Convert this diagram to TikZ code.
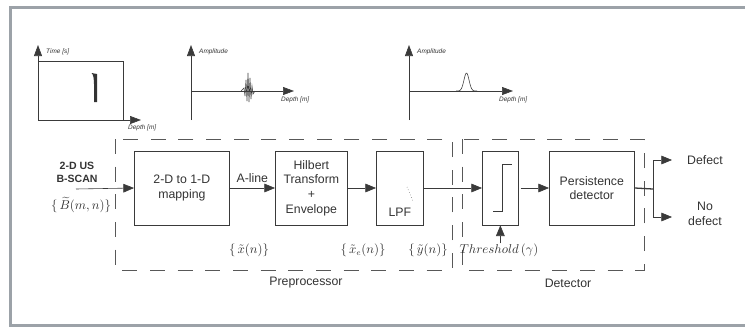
\documentclass[tikz,border=0pt]{standalone}
\usepackage{fontspec}
\setmainfont{Liberation Sans}
\usepackage{amsmath}
\usepackage{tikz}
\usetikzlibrary{positioning, arrows.meta, calc}
\definecolor{bodyText}{HTML}{333333}
\definecolor{lineCol}{HTML}{3A3A3A}
\definecolor{frameCol}{HTML}{9CA2A8}

\begin{document}
\begin{tikzpicture}[x=0.3mm, y=-0.3mm,
  every node/.style={font=\fontsize{10.5}{12.5}\selectfont, text=bodyText},
  blk/.style={rectangle, draw=lineCol, line width=0.6pt, minimum height=22.2mm,
              align=center, inner sep=1mm, anchor=west},
  grp/.style={draw=lineCol!85, line width=0.6pt, dash pattern=on 4.5mm off 3.8mm},
  arr/.style={-{Triangle[length=3.2mm, width=2.6mm]}, lineCol, line width=0.5pt},
  axis/.style={-{Triangle[length=3.3mm, width=2.4mm]}, lineCol, line width=0.5pt},
  sig/.style={lineCol, line width=0.5pt},
  axlbl/.style={font=\fontsize{5.5}{6}\selectfont\itshape, inner sep=0pt, anchor=west},
  sub/.style={inner sep=0pt},
]
  \useasboundingbox (0,0) rectangle (745,327);
  % outer frame
  \draw[frameCol, line width=0.9mm] (750,7) -- (10,7) -- (10,325) -- (750,325);

  % B-scan inset
  \draw[sig] (38,61) rectangle (123,120);
  \draw[axis] (38,120) -- (38,45);
  \draw[axis] (38,120) -- (141,120);
  \fill[black!80] (91.5,73) .. controls (93.5,74) and (94,80) .. (94,84) -- (94,102)
        -- (97,102) -- (97,74) -- cycle;
  \node[axlbl] (tlbl) at (46,52) {Time [s]};
  \node[axlbl] (dlbl1) at (128,128) {Depth [m]};

  % A-line inset
  \draw[axis] (191,120) -- (191,45);
  \draw[axis] (191,91) -- (294,91);
  \draw[sig] (241,91) -- (244,88) -- (245,96) -- (246,80) -- (247,101) -- (248,73)
        -- (249,102) -- (250,78) -- (251,99) -- (252,86) -- (253,94) -- (255,91);
  \node[axlbl] (albl1) at (199,52) {Amplitude};
  \node[axlbl] (dlbl2) at (281,100) {Depth [m]};

  % envelope inset
  \draw[axis] (409,120) -- (409,45);
  \draw[axis] (409,91) -- (513,91);
  \draw[sig] plot[domain=456:477, samples=40] (\x, {91-18*exp(-((\x-466.5)/3.6)^2)});
  \node[axlbl] (albl2) at (417,52) {Amplitude};
  \node[axlbl] (dlbl3) at (499,100) {Depth [m]};

  % group boxes
  \draw[grp] (115,139) rectangle (452,270);
  \draw[grp] (462,139) rectangle (644,270);
  \node (pre) at (306,283) {Preprocessor};
  \node (det) at (568,283) {Detector};

  % input
  \node[font=\small\bfseries, align=center, inner sep=0pt] (in) at (77,172) {2-D US\\B-SCAN};
  \node[sub] (bmn) at (81,205) {$\{\,\widetilde{B}(m,n)\}$};
  \coordinate (src) at (76,189);

  % processing chain
  \node[blk, minimum width=28.5mm] (map) at (134,188) {2-D to 1-D\\mapping};
  \node[blk, minimum width=21.6mm] (hil) at (275,188) {Hilbert\\Transform\\+\\Envelope};
  \node[blk, minimum width=14.1mm] (lpf) at (376,188) {};
  \node[above=1.5mm of lpf.south] (lpft) {LPF};
  \draw[lineCol, line width=0.4pt, dotted] (407,187) -- (413,201);
  \node[blk, minimum width=10.8mm] (thr) at (482,188) {};
  \draw[lineCol, line width=0.6pt] (493,211) -- (502,211) -- (502,164) -- (512,164);
  \node[blk, minimum width=25.5mm] (per) at (549,188) {Persistence\\detector};

  \draw[arr] (src) -- (map.west);
  \draw[arr] (map.east) -- node[above=0.5mm] (aline) {A-line} (hil.west);
  \draw[arr] (hil.east) -- (lpf.west);
  \draw[arr] (lpf.east) -- (thr.west);
  \draw[arr] ($(thr.east)+(2,0)$) -- (per.west);

  % threshold input
  \node[sub] (gam) at (499,250) {$\mathnormal{Threshold}\,(\gamma)$};
  \draw[arr] (gam.north -| thr.south) -- (thr.south);

  % signal names
  \node[sub] (xn) at (249,250) {$\{\,\tilde{x}(n)\}$};
  \node[sub] (xen) at (363,250) {$\{\,\tilde{x}_e(n)\}$};
  \node[sub] (yn) at (428,250) {$\{\,\tilde{y}(n)\}$};

  % decision outputs
  \coordinate (split) at (653,189);
  \coordinate (yes) at (672,160);
  \coordinate (no) at (672,217);
  \draw[lineCol, line width=1.1pt] (per.east) -- (split);
  \draw[lineCol, line width=0.6pt] (split |- yes) -- (split |- no);
  \draw[arr] (split |- yes) -- (yes);
  \draw[arr] (split |- no) -- (no);
  \node[anchor=west, inner sep=0pt] (dfct) at (687,160) {Defect};
  \node[anchor=west, inner sep=0pt, align=center] (ndfct) at (688,214) {No\\defect};
\end{tikzpicture}
\end{document}
